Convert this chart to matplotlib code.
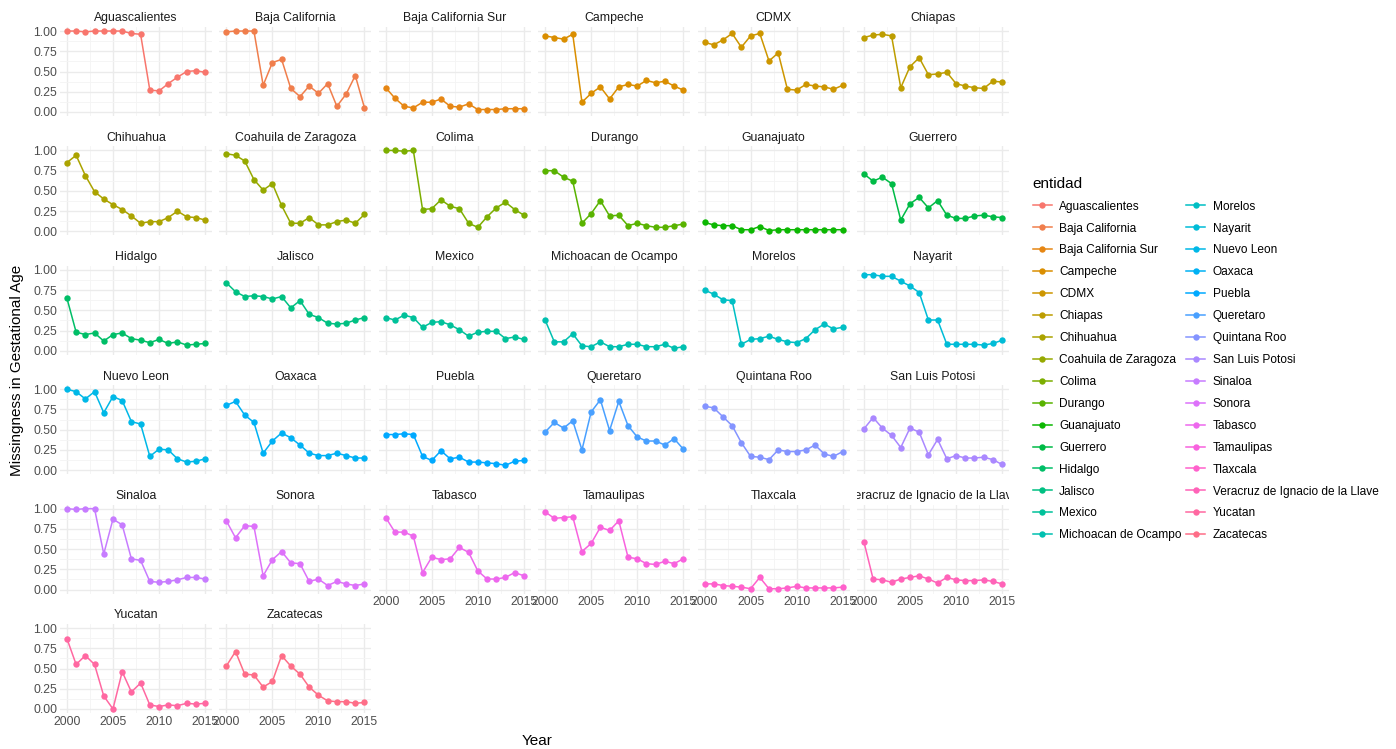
import numpy as np
import matplotlib
matplotlib.use("Agg")
import matplotlib.pyplot as plt
from matplotlib.lines import Line2D
from matplotlib.transforms import Bbox, TransformedBbox

plt.rcParams['font.family'] = ['Liberation Sans', 'DejaVu Sans']

years = list(range(2000, 2016))

entidades = [
    "Aguascalientes", "Baja California", "Baja California Sur", "Campeche",
    "CDMX", "Chiapas", "Chihuahua", "Coahuila de Zaragoza", "Colima",
    "Durango", "Guanajuato", "Guerrero", "Hidalgo", "Jalisco", "Mexico",
    "Michoacan de Ocampo", "Morelos", "Nayarit", "Nuevo Leon", "Oaxaca",
    "Puebla", "Queretaro", "Quintana Roo", "San Luis Potosi", "Sinaloa",
    "Sonora", "Tabasco", "Tamaulipas", "Tlaxcala",
    "Veracruz de Ignacio de la Llave", "Yucatan", "Zacatecas",
]

aguascalientes = [1.00, 1.00, 0.99, 1.00, 1.00, 1.00, 1.00, 0.97, 0.96, 0.27, 0.26, 0.35, 0.43, 0.50, 0.51, 0.49]
baja_california = [0.99, 1.00, 1.00, 1.00, 0.33, 0.61, 0.65, 0.29, 0.19, 0.32, 0.23, 0.35, 0.07, 0.22, 0.45, 0.05]
baja_california_sur = [0.30, 0.17, 0.07, 0.05, 0.12, 0.12, 0.16, 0.07, 0.06, 0.10, 0.03, 0.03, 0.03, 0.04, 0.04, 0.04]
campeche = [0.94, 0.92, 0.90, 0.96, 0.12, 0.23, 0.31, 0.16, 0.31, 0.34, 0.32, 0.39, 0.36, 0.38, 0.32, 0.27]
cdmx = [0.86, 0.83, 0.89, 0.97, 0.80, 0.94, 0.97, 0.63, 0.73, 0.28, 0.27, 0.34, 0.32, 0.31, 0.28, 0.33]
chiapas = [0.92, 0.95, 0.96, 0.94, 0.30, 0.56, 0.67, 0.46, 0.47, 0.49, 0.35, 0.32, 0.30, 0.29, 0.38, 0.37]
chihuahua = [0.85, 0.94, 0.69, 0.49, 0.40, 0.33, 0.27, 0.19, 0.10, 0.12, 0.12, 0.17, 0.25, 0.18, 0.17, 0.14]
coahuila = [0.96, 0.94, 0.87, 0.64, 0.51, 0.59, 0.32, 0.10, 0.10, 0.17, 0.08, 0.08, 0.12, 0.14, 0.10, 0.21]
colima = [1.00, 1.00, 0.99, 1.00, 0.27, 0.28, 0.39, 0.31, 0.28, 0.10, 0.05, 0.18, 0.29, 0.36, 0.27, 0.20]
durango = [0.75, 0.75, 0.67, 0.62, 0.10, 0.22, 0.38, 0.19, 0.20, 0.07, 0.10, 0.07, 0.05, 0.05, 0.07, 0.09]
guanajuato = [0.11, 0.08, 0.07, 0.07, 0.02, 0.02, 0.06, 0.01, 0.02, 0.02, 0.02, 0.02, 0.02, 0.02, 0.02, 0.02]
guerrero = [0.71, 0.62, 0.67, 0.59, 0.14, 0.34, 0.42, 0.29, 0.38, 0.20, 0.16, 0.16, 0.19, 0.20, 0.18, 0.17]
hidalgo = [0.65, 0.23, 0.20, 0.22, 0.12, 0.20, 0.22, 0.15, 0.13, 0.10, 0.14, 0.09, 0.11, 0.07, 0.08, 0.09]
jalisco = [0.84, 0.73, 0.67, 0.68, 0.67, 0.64, 0.67, 0.53, 0.62, 0.45, 0.41, 0.34, 0.33, 0.34, 0.38, 0.41]
mexico = [0.41, 0.38, 0.44, 0.41, 0.29, 0.35, 0.36, 0.32, 0.26, 0.18, 0.23, 0.24, 0.24, 0.15, 0.17, 0.14]
michoacan = [0.38, 0.11, 0.11, 0.21, 0.06, 0.05, 0.11, 0.05, 0.05, 0.08, 0.08, 0.05, 0.05, 0.08, 0.03, 0.05]
morelos = [0.75, 0.70, 0.63, 0.62, 0.08, 0.14, 0.15, 0.18, 0.14, 0.11, 0.10, 0.15, 0.26, 0.33, 0.27, 0.29]
nayarit = [0.94, 0.94, 0.92, 0.92, 0.86, 0.80, 0.72, 0.38, 0.38, 0.08, 0.08, 0.08, 0.08, 0.07, 0.09, 0.13]
nuevo_leon = [1.00, 0.97, 0.88, 0.97, 0.71, 0.91, 0.86, 0.60, 0.57, 0.17, 0.26, 0.25, 0.14, 0.10, 0.11, 0.14]
oaxaca = [0.80, 0.85, 0.68, 0.59, 0.21, 0.36, 0.46, 0.40, 0.31, 0.21, 0.18, 0.18, 0.21, 0.18, 0.15, 0.15]
puebla = [0.44, 0.44, 0.45, 0.44, 0.17, 0.12, 0.24, 0.14, 0.16, 0.10, 0.10, 0.09, 0.08, 0.06, 0.11, 0.12]
queretaro = [0.47, 0.59, 0.52, 0.61, 0.25, 0.72, 0.87, 0.49, 0.85, 0.55, 0.41, 0.36, 0.36, 0.31, 0.39, 0.26]
quintana_roo = [0.79, 0.77, 0.66, 0.55, 0.34, 0.17, 0.16, 0.13, 0.25, 0.23, 0.23, 0.25, 0.31, 0.20, 0.17, 0.23]
san_luis_potosi = [0.51, 0.65, 0.52, 0.43, 0.28, 0.52, 0.47, 0.19, 0.38, 0.14, 0.18, 0.15, 0.15, 0.16, 0.13, 0.07]
sinaloa = [1.00, 0.99, 1.00, 1.00, 0.44, 0.87, 0.80, 0.38, 0.36, 0.10, 0.09, 0.10, 0.12, 0.15, 0.15, 0.13]
sonora = [0.85, 0.64, 0.79, 0.78, 0.17, 0.37, 0.47, 0.33, 0.32, 0.10, 0.13, 0.05, 0.10, 0.07, 0.05, 0.07]
tabasco = [0.89, 0.71, 0.71, 0.66, 0.21, 0.40, 0.37, 0.38, 0.52, 0.46, 0.23, 0.13, 0.13, 0.15, 0.21, 0.17]
tamaulipas = [0.96, 0.88, 0.89, 0.90, 0.47, 0.57, 0.77, 0.73, 0.85, 0.40, 0.38, 0.32, 0.31, 0.35, 0.32, 0.38]
tlaxcala = [0.07, 0.07, 0.05, 0.04, 0.03, 0.01, 0.15, 0.01, 0.01, 0.02, 0.04, 0.02, 0.02, 0.02, 0.02, 0.03]
veracruz = [0.59, 0.13, 0.12, 0.09, 0.13, 0.15, 0.17, 0.13, 0.08, 0.15, 0.12, 0.11, 0.11, 0.12, 0.10, 0.07]
yucatan = [0.87, 0.55, 0.66, 0.55, 0.16, 0.00, 0.46, 0.21, 0.32, 0.05, 0.03, 0.05, 0.04, 0.07, 0.06, 0.07]
zacatecas = [0.53, 0.71, 0.43, 0.42, 0.27, 0.34, 0.66, 0.53, 0.43, 0.27, 0.17, 0.10, 0.09, 0.09, 0.07, 0.08]

series = [
    aguascalientes, baja_california, baja_california_sur, campeche, cdmx,
    chiapas, chihuahua, coahuila, colima, durango, guanajuato, guerrero,
    hidalgo, jalisco, mexico, michoacan, morelos, nayarit, nuevo_leon, oaxaca,
    puebla, queretaro, quintana_roo, san_luis_potosi, sinaloa, sonora,
    tabasco, tamaulipas, tlaxcala, veracruz, yucatan, zacatecas,
]


def hcl_to_rgb(h, c=100, l=65):
    # polar LUV -> sRGB, like R's hcl()
    xn, yn, zn = 95.047, 100.0, 108.883
    un = 4 * xn / (xn + 15 * yn + 3 * zn)
    vn = 9 * yn / (xn + 15 * yn + 3 * zn)
    u = c * np.cos(np.radians(h))
    v = c * np.sin(np.radians(h))
    y = yn * ((l + 16) / 116) ** 3
    up = u / (13 * l) + un
    vp = v / (13 * l) + vn
    x = y * 9 * up / (4 * vp)
    z = y * (12 - 3 * up - 20 * vp) / (4 * vp)
    xyz = np.array([x, y, z]) / 100
    m = np.array([[3.2404542, -1.5371385, -0.4985314],
                  [-0.9692660, 1.8760108, 0.0415560],
                  [0.0556434, -0.2040259, 1.0572252]])
    rgb = m @ xyz
    rgb = np.where(rgb <= 0.0031308, 12.92 * rgb,
                   1.055 * np.abs(rgb) ** (1 / 2.4) - 0.055)
    return tuple(np.clip(rgb, 0, 1))


n = len(entidades)
hues = np.linspace(15, 375, n + 1)[:n]
colors = [hcl_to_rgb(h) for h in hues]

W, H = 1396, 749
fig = plt.figure(figsize=(W / 100, H / 100), dpi=100)

ncol = 6
left0, pitch_x, pw = 60, 159.4, 152
top0, pitch_y, ph = 27, 119.4, 89
grid_major = '#EBEBEB'
grid_minor = '#F4F4F4'
tick_col = '#4D4D4D'

for i, (name, vals) in enumerate(zip(entidades, series)):
    r, c = divmod(i, ncol)
    x0 = left0 + c * pitch_x
    y0 = top0 + r * pitch_y
    ax = fig.add_axes([x0 / W, 1 - (y0 + ph) / H, pw / W, ph / H])
    ax.plot(years, vals, color=colors[i], lw=1.1, marker='o', ms=4.6,
            mew=0, zorder=3)
    ax.set_xlim(1999.25, 2015.75)
    ax.set_ylim(-0.05, 1.05)
    ax.set_xticks([2000, 2005, 2010, 2015])
    ax.set_xticks([2002.5, 2007.5, 2012.5], minor=True)
    ax.set_yticks([0, 0.25, 0.5, 0.75, 1.0])
    ax.set_yticks([0.125, 0.375, 0.625, 0.875], minor=True)
    ax.grid(which='major', color=grid_major, lw=1.0)
    ax.grid(which='minor', color=grid_minor, lw=0.6)
    ax.set_axisbelow(True)
    for s in ax.spines.values():
        s.set_visible(False)
    ax.tick_params(which='both', length=0, labelsize=8.8, colors=tick_col,
                   pad=2)
    if c == 0:
        ax.set_yticklabels(['0.00', '0.25', '0.50', '0.75', '1.00'])
    else:
        ax.set_yticklabels([])
    # x labels only on the bottom panel of each column
    if i + ncol >= n:
        ax.set_xticklabels(['2000', '2005', '2010', '2015'])
    else:
        ax.set_xticklabels([])
    t = ax.set_title(name, fontsize=8.8, color='#1A1A1A', pad=4)
    # strip text is cut at the panel edges, as in facet strips
    t.set_clip_box(TransformedBbox(Bbox([[0, 0], [1, 1.4]]), ax.transAxes))
    t.set_clip_on(True)

fig.text(537 / W, 1 - 741 / H, 'Year', ha='center', va='center',
         fontsize=11, color='black')
fig.text(17 / W, 1 - 370 / H, 'Missingness in Gestational Age',
         ha='center', va='center', rotation=90, fontsize=11, color='black')

handles = [Line2D([], [], color=colors[i], lw=1.1, marker='o', ms=4.6,
                  mew=0) for i in range(n)]
fig.legend(handles, entidades, ncol=2, title='entidad', loc='upper left',
           bbox_to_anchor=(1022 / W, 1 - 166 / H), frameon=False,
           fontsize=8.6, title_fontsize=11, labelspacing=0.83,
           handlelength=1.6, handletextpad=0.6, columnspacing=0.4,
           alignment='left')

fig.savefig('out.png', dpi=100)
